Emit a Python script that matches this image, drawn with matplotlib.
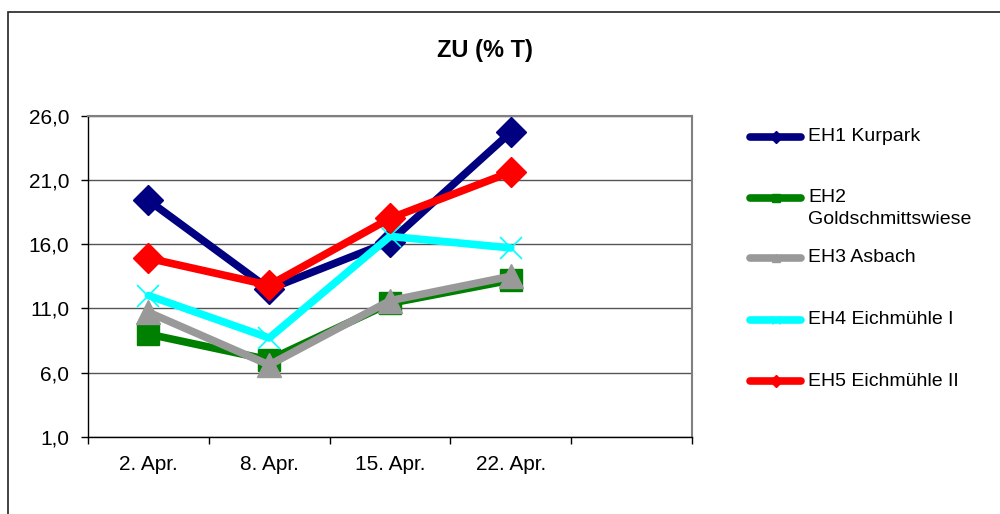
import matplotlib
matplotlib.use('Agg')
from matplotlib import pyplot as plt
from matplotlib.lines import Line2D
from matplotlib.patches import Rectangle

plt.rcParams['font.family'] = ['Liberation Sans', 'DejaVu Sans']

dates = ['2. Apr.', '8. Apr.', '15. Apr.', '22. Apr.']
n_slots = 5  # Excel category axis has one empty slot at the end

eh1 = [19.4, 12.5, 16.2, 24.7]
eh2 = [9.0, 7.0, 11.4, 13.2]
eh3 = [10.7, 6.6, 11.6, 13.5]
eh4 = [12.0, 8.7, 16.6, 15.7]
eh5 = [14.9, 12.8, 18.0, 21.6]

series = [
    ('EH1 Kurpark', eh1, '#000080', 'D', 15),
    ('EH2 Goldschmittswiese', eh2, '#008000', 's', 16),
    ('EH3 Asbach', eh3, '#999999', '^', 17),
    ('EH4 Eichmühle I', eh4, '#00FFFF', 'x', 16),
    ('EH5 Eichmühle II', eh5, '#FF0000', 'D', 15),
]

fig = plt.figure(figsize=(10, 5.14), dpi=100)
W, H = 1000, 514

# outer chart border (cropped on right/bottom)
fig.patches.append(Rectangle((8 / W, -0.1), 1.2, 0.1 + (1 - 11.5 / H),
                             transform=fig.transFigure, fill=False,
                             edgecolor='#222222', linewidth=1.2))

ax = fig.add_axes([88 / W, 1 - 437 / H, 604 / W, (437 - 115.5) / H])

x = list(range(len(dates)))
for name, vals, col, mk, ms in series:
    if mk == 'x':
        ax.plot(x, vals, color=col, linewidth=5.5, marker=mk, markersize=ms,
                markeredgewidth=1.2, solid_capstyle='round', zorder=3)
    else:
        ax.plot(x, vals, color=col, linewidth=5.5, marker=mk, markersize=ms,
                markeredgecolor=col, solid_capstyle='round', zorder=3)

ax.set_xlim(-0.5, n_slots - 0.5)
ax.set_ylim(1, 26)
ax.set_yticks([1, 6, 11, 16, 21, 26])
ax.set_yticklabels(['1,0', '6,0', '11,0', '16,0', '21,0', '26,0'], fontsize=15)
ax.set_xticks([i - 0.5 for i in range(n_slots + 1)])
ax.set_xticklabels([])
ax.set_xticks(x, minor=True)
ax.set_xticklabels(dates, minor=True, fontsize=15)
ax.tick_params(axis='x', which='minor', length=0, pad=13)
ax.tick_params(axis='both', which='major', direction='out', length=5,
               width=1, color='black')
ax.tick_params(axis='y', pad=8.5)

ax.yaxis.grid(True, color='#555555', linewidth=1)
ax.set_axisbelow(True)
for side in ['top', 'right']:
    ax.spines[side].set_color('#808080')
    ax.spines[side].set_linewidth(1.5)
for side in ['left', 'bottom']:
    ax.spines[side].set_color('black')
    ax.spines[side].set_linewidth(1)

fig.text(485 / W, 1 - 50 / H, 'ZU (% T)', ha='center', va='center',
         fontsize=17, fontweight='bold')

# legend drawn by hand to mimic Excel layout
rows = [137, 198, 258, 320, 381]
labels = [['EH1 Kurpark'], ['EH2', 'Goldschmittswiese'], ['EH3 Asbach'],
          ['EH4 Eichmühle I'], ['EH5 Eichmühle II']]
for (name, vals, col, mk, ms), y, lab in zip(series, rows, labels):
    yf = 1 - y / H
    fig.add_artist(Line2D([750 / W, 801 / W], [yf, yf], color=col,
                          linewidth=5.5, solid_capstyle='round',
                          transform=fig.transFigure))
    fig.add_artist(Line2D([776 / W], [yf], color=col, marker=mk,
                          markersize=6, markeredgecolor=col,
                          markeredgewidth=1, transform=fig.transFigure))
    for k, t in enumerate(lab):
        fig.text(808 / W, 1 - (y + 22 * k) / H, t, ha='left', va='center',
                 fontsize=14)

fig.savefig('out.png', dpi=100)
